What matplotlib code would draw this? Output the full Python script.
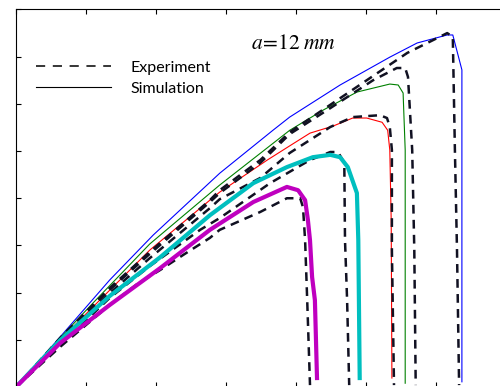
import matplotlib
matplotlib.use("Agg")
from matplotlib import pyplot as plt
from matplotlib.lines import Line2D

# simulation curves (x, y)
blue_x = [0, 0.63, 1.34, 1.96, 2.91, 3.67, 3.91, 4.63, 5.34, 5.73, 6.16, 6.24, 6.37, 6.37]
blue_y = [0, 1.06, 2.27, 3.22, 4.53, 5.44, 5.72, 6.40, 6.99, 7.29, 7.46, 7.46, 6.72, 0.11]

green_x = [0, 0.63, 1.10, 1.91, 2.91, 3.91, 4.39, 4.87, 5.34, 5.46, 5.53, 5.56, 5.56]
green_y = [0, 1.04, 1.78, 3.03, 4.28, 5.44, 5.87, 6.25, 6.42, 6.40, 6.23, 5.02, 0.08]

red_x = [0, 0.63, 1.91, 2.77, 2.91, 3.59, 3.91, 4.20, 4.53, 4.81, 5.01, 5.23, 5.31, 5.34, 5.36, 5.37]
red_y = [0, 1.00, 2.90, 3.96, 4.13, 4.81, 5.11, 5.38, 5.53, 5.70, 5.70, 5.61, 5.44, 5.02, 3.54, 0.19]

cyan_x = [0, 0.63, 1.34, 2.06, 2.77, 3.39, 3.87, 4.24, 4.49, 4.63, 4.74, 4.87, 4.89, 4.91]
cyan_y = [0, 0.99, 1.93, 2.75, 3.64, 4.32, 4.66, 4.87, 4.92, 4.87, 4.66, 4.11, 3.11, 0.19]

mag_x = [0, 0.63, 1.34, 2.06, 2.77, 3.39, 3.87, 4.03, 4.13, 4.17, 4.20, 4.23, 4.27, 4.30]
mag_y = [0, 0.93, 1.74, 2.52, 3.33, 3.92, 4.24, 4.17, 3.96, 3.54, 3.11, 2.33, 1.84, 0.19]

# experiment curves
e1_x = [0, 0.63, 1.34, 1.91, 2.77, 2.91, 3.49, 3.91, 4.53, 5.01, 5.59, 6.16, 6.24, 6.27, 6.30, 6.33]
e1_y = [0, 1.04, 2.10, 2.86, 3.96, 4.17, 4.81, 5.40, 6.02, 6.50, 7.08, 7.50, 7.42, 5.02, 2.90, 0.04]

e2_x = [0, 0.63, 1.34, 1.91, 2.77, 2.91, 3.49, 3.91, 4.49, 5.10, 5.44, 5.56, 5.60, 5.66, 5.69, 5.71]
e2_y = [0, 1.00, 2.06, 2.82, 3.92, 4.11, 4.75, 5.36, 5.91, 6.50, 6.76, 6.76, 6.57, 5.02, 2.90, 0.04]

e3_x = [0, 0.63, 1.34, 1.91, 2.77, 2.91, 3.49, 3.91, 4.49, 4.81, 5.20, 5.30, 5.34, 5.37, 5.37, 5.40]
e3_y = [0, 0.95, 1.99, 2.73, 3.79, 3.98, 4.43, 4.96, 5.51, 5.72, 5.76, 5.70, 5.51, 5.02, 2.90, 0.04]

e4_x = [0, 0.63, 1.34, 1.91, 2.63, 2.91, 3.63, 4.20, 4.49, 4.60, 4.69, 4.70, 4.73, 4.76]
e4_y = [0, 0.89, 1.89, 2.56, 3.33, 3.58, 4.32, 4.81, 4.98, 4.98, 4.75, 3.11, 1.84, 0.04]

e5_x = [0, 0.63, 1.34, 1.73, 2.06, 2.39, 2.77, 2.91, 3.49, 3.87, 4.06, 4.10, 4.13, 4.16, 4.20]
e5_y = [0, 0.85, 1.74, 2.18, 2.48, 2.80, 3.16, 3.33, 3.71, 4.00, 4.00, 3.81, 3.11, 1.84, 0.04]

plt.rcParams["mathtext.fontset"] = "stix"

fig = plt.figure(figsize=(5, 3.86), dpi=100)
ax = fig.add_axes([0.032, -0.0026, 0.98, 0.978])

ax.plot(blue_x, blue_y, color="#0000ff", lw=0.8)
ax.plot(green_x, green_y, color="#008000", lw=0.8)
ax.plot(red_x, red_y, color="#ff0000", lw=0.8)

dash = (0, (3.5, 2.5))
for ex, ey in [(e1_x, e1_y), (e2_x, e2_y), (e3_x, e3_y), (e4_x, e4_y), (e5_x, e5_y)]:
    ax.plot(ex, ey, color="#111122", lw=1.8, linestyle=dash)

ax.plot(cyan_x, cyan_y, color="#00bfbf", lw=3)
ax.plot(mag_x, mag_y, color="#bf00bf", lw=3)

ax.set_xlim(0, 7)
ax.set_ylim(0, 8)
ax.set_xticks(range(0, 8))
ax.set_yticks(range(0, 9))
ax.tick_params(direction="in", length=3.5, width=0.8, top=True, right=True,
               labelbottom=False, labelleft=False)
for s in ax.spines.values():
    s.set_linewidth(0.8)

handles = [Line2D([], [], color="black", lw=1.1, linestyle=(0, (6, 5))),
           Line2D([], [], color="black", lw=0.8)]
ax.legend(handles, ["Experiment", "Simulation"], loc="upper left",
          bbox_to_anchor=(0.025, 0.886), frameon=False, borderpad=0,
          handlelength=4.7, handletextpad=1.2, labelspacing=0.45,
          prop={"family": "Lato", "size": 11.5})

ax.text(0.48, 0.91, r"$a\!=\!12\;mm$", transform=ax.transAxes, fontsize=15.5,
        ha="left", va="center")

fig.savefig("out.png", dpi=100)
